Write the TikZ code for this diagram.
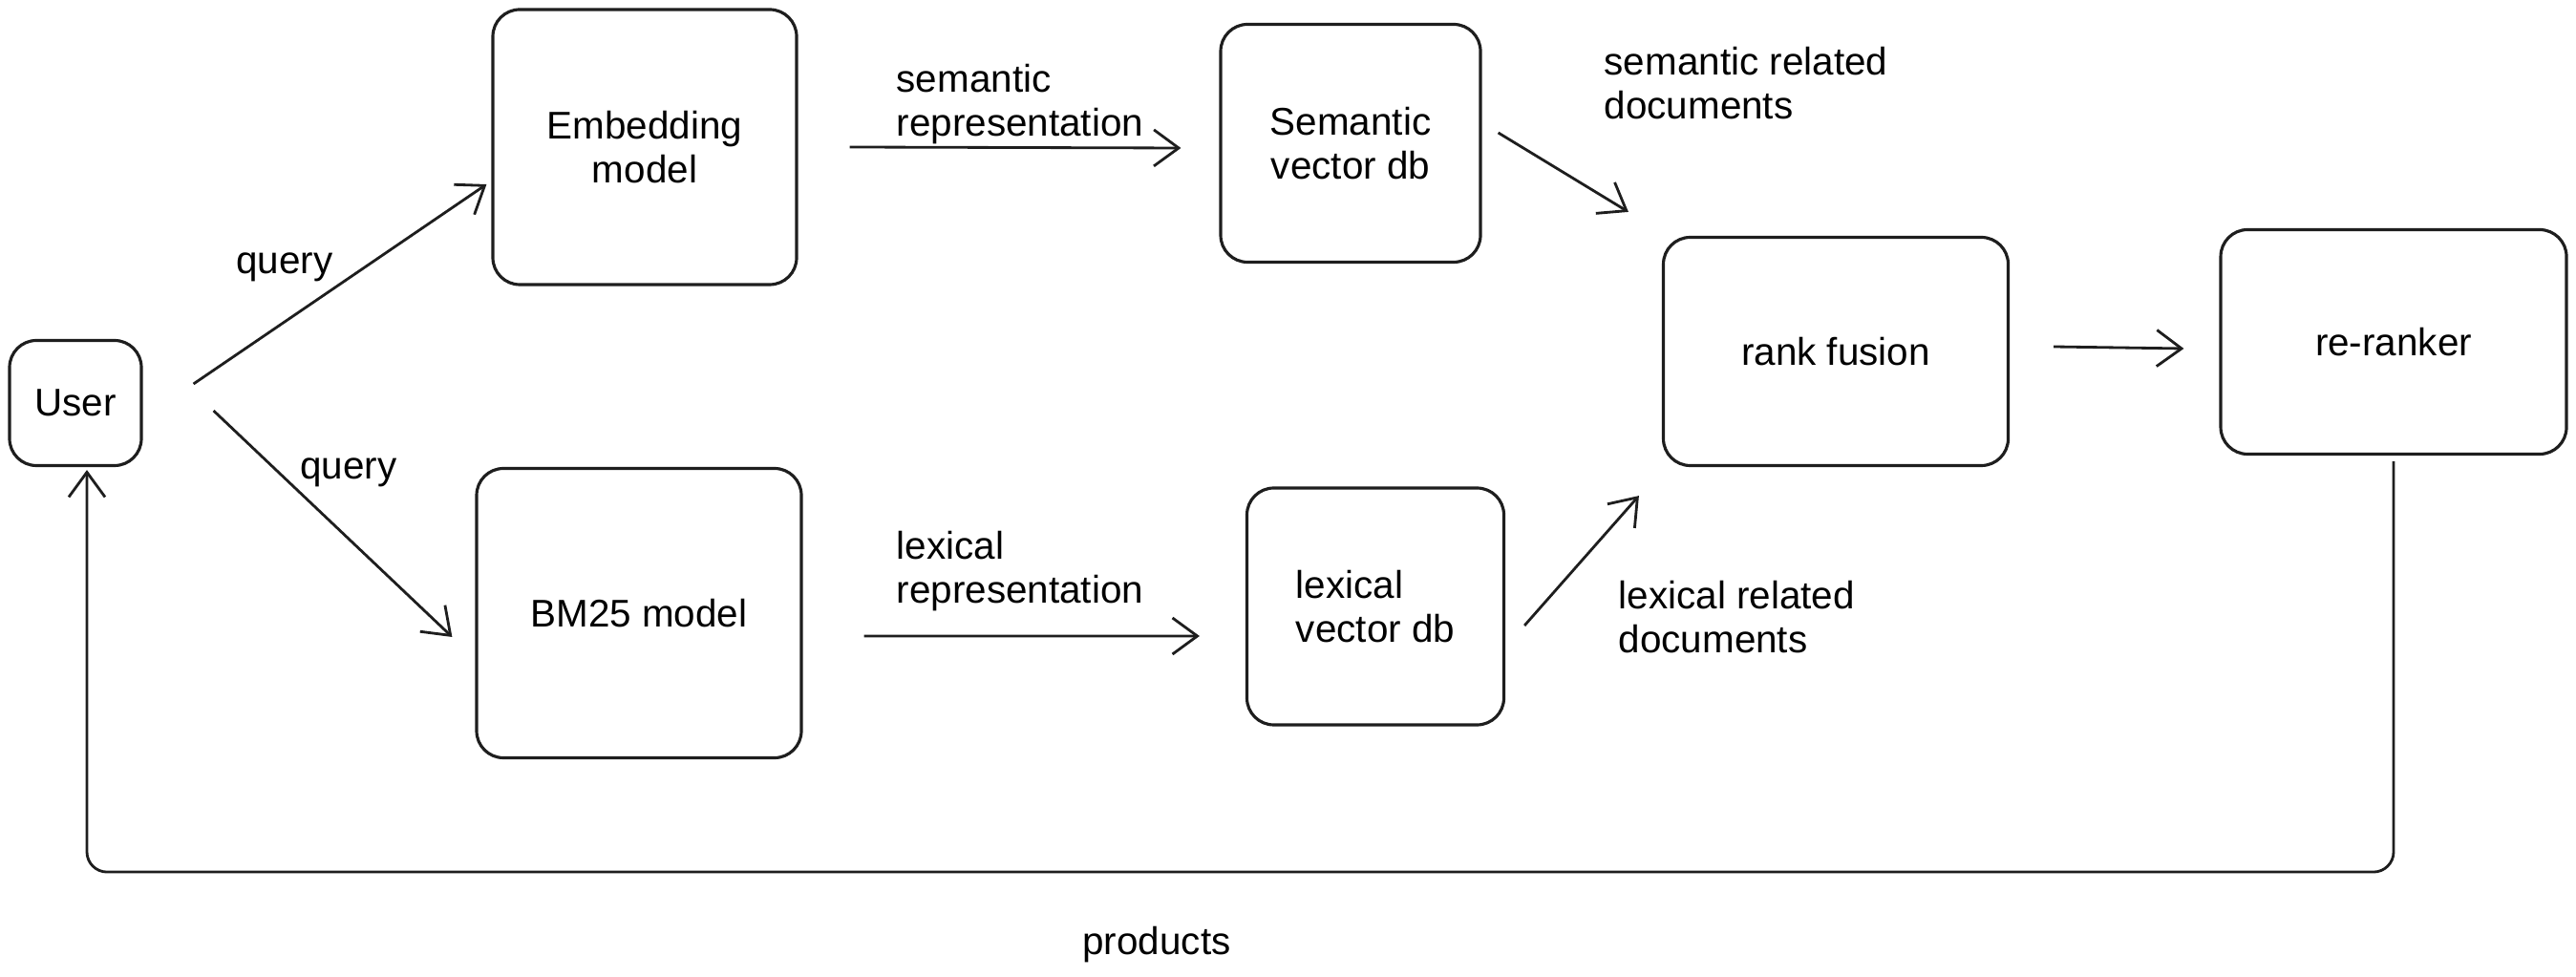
\documentclass[tikz,border=0pt]{standalone}
\usepackage{fontspec}
\setmainfont{Liberation Sans}
\usepackage{tikz}
\usetikzlibrary{arrows.meta, positioning, calc}
\definecolor{mydark}{RGB}{30,30,30}
\tikzset{
  block/.style={rectangle, draw=mydark, rounded corners=8pt,
    align=center, inner sep=0pt, line width=0.9pt},
  lbl/.style={anchor=west, align=left, inner sep=0pt},
  arrow/.style={-{Straight Barb[length=2.6mm, width=3.8mm]}, line width=0.8pt, color=mydark}
}

\begin{document}
\begin{tikzpicture}[font=\fontsize{11.5}{13}\selectfont]
  \useasboundingbox (0,0) rectangle (26.97,10.22);

  % User
  \node[block, minimum width=1.38cm, minimum height=1.31cm] (user) at (0.79, 6.0) {User};

  % Models
  \node[block, minimum width=3.18cm, minimum height=2.88cm] (embed) at (6.75, 8.68) {Embedding\\model};
  \node[block, minimum width=3.40cm, minimum height=3.03cm] (bm25) at (6.69, 3.8) {BM25 model};

  % Vector dbs
  \node[block, minimum width=2.72cm, minimum height=2.49cm] (semdb) at (14.14, 8.72) {Semantic\\vector db};
  \node[block, align=left, minimum width=2.69cm, minimum height=2.48cm] (lexdb) at (14.4, 3.87) {lexical\\vector db};

  % Fusion and re-ranking
  \node[block, minimum width=3.61cm, minimum height=2.39cm] (fusion) at (19.22, 6.54) {rank fusion};
  \node[block, minimum width=3.62cm, minimum height=2.35cm] (rerank) at (25.06, 6.64) {re-ranker};

  % Query paths
  \draw[arrow] ([shift={(0.53,0.2)}]user.east) -- ([shift={(-0.05,-0.39)}]embed.west);
  \node (q1) at (2.98, 7.42) {query};
  \draw[arrow] ([shift={(0.74,-0.08)}]user.east) -- ([shift={(-0.24,-0.25)}]bm25.west);
  \node (q2) at (3.65, 5.27) {query};

  % Representations
  \draw[arrow] ([xshift=5.4mm]embed.east) -- ([shift={(-0.4,-0.05)}]semdb.west);
  \node[lbl] (semrep) at (9.38, 9.13) {semantic\\representation};
  \draw[arrow] ([shift={(0.64,-0.24)}]bm25.east) -- ([shift={(-0.48,-0.31)}]lexdb.west);
  \node[lbl] (lexrep) at (9.38, 4.24) {lexical\\representation};

  % Related documents
  \draw[arrow] ([shift={(0.17,0.11)}]semdb.east) -- ([shift={(-0.35,0.25)}]fusion.north west);
  \node[lbl] (semdocs) at (16.79, 9.35) {semantic related\\documents};
  \draw[arrow] ([shift={(0.2,-0.2)}]lexdb.east) -- ([shift={(-0.24,-0.3)}]fusion.south west);
  \node[lbl] (lexdocs) at (16.94, 3.76) {lexical related\\documents};

  \draw[arrow] ([shift={(0.46,0.05)}]fusion.east) -- ([shift={(-0.37,-0.07)}]rerank.west);

  % Feedback path
  \draw[arrow, rounded corners=6pt] ([yshift=-0.06cm]rerank.south) -- ++(0,-4.3) -| ([shift={(0.12,-0.03)}]user.south);
  \node (prod) at (12.11, 0.33) {products};
\end{tikzpicture}
\end{document}
